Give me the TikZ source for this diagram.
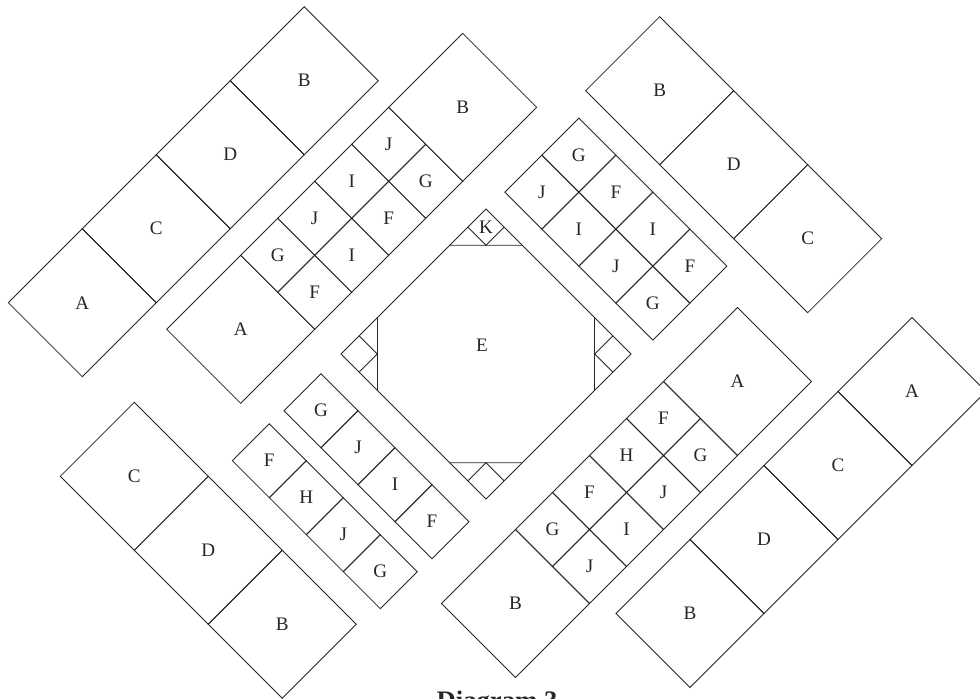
\documentclass[tikz,border=0pt]{standalone}
\usepackage{fontspec}
\setmainfont{Liberation Serif}
\tikzset{
  tile/.style={draw=black!85,line width=0.6pt},
  lbl/.style={font=\fontsize{13.6}{16}\selectfont,text=black!85,inner sep=0pt},
  capt/.style={font=\fontsize{19}{22}\selectfont\bfseries,text=black!85,inner sep=0pt},
}
\begin{document}
\begin{tikzpicture}[x={(0.125mm,0.125mm)},y={(0.125mm,-0.125mm)}]
  \useasboundingbox (0mm,0mm) rectangle (245mm,-174.5mm);
  \clip (0mm,0mm) rectangle (245mm,-174.5mm);
  % large tiles (u along the rows, v across)
  \foreach \u/\v/\f [count=\i] in {-294.4/311/A,-146.4/311/C,1.6/311/D,149.6/311/B,
      -162.6/496/A,281.4/496/B,
      495/676.4/B,495/824.4/D,495/972.4/C,
      -416/536.6/C,-416/684.6/D,-416/832.6/B,
      -162/1045/B,282/1045/A,
      2.5/1229.5/B,150.5/1229.5/D,298.5/1229.5/C,446.5/1229.5/A}{
    \draw[tile] (\u,\v) -- ++(148,0) -- ++(0,148) -- ++(-148,0) -- cycle;
    \node[lbl] (b\i) at ({\u+74},{\v+74}) {\f};}
  % small tiles
  \foreach \u/\v/\f [count=\i] in {-14.6/496/G,59.4/496/J,133.4/496/I,207.4/496/J,
      -14.6/570/F,59.4/570/I,133.4/570/F,207.4/570/G,
      312.7/697/J,312.7/771/I,312.7/845/J,312.7/919/G,
      386.7/697/G,386.7/771/F,386.7/845/I,386.7/919/F,
      -228.4/693/F,-228.4/767/H,-228.4/841/J,-228.4/915/G,
      -126.7/694.7/G,-126.7/768.7/J,-126.7/842.7/I,-126.7/916.7/F,
      -14/1045/G,60/1045/F,134/1045/H,208/1045/F,
      -14/1119/J,60/1119/I,134/1119/J,208/1119/G}{
    \draw[tile] (\u,\v) -- ++(74,0) -- ++(0,74) -- ++(-74,0) -- cycle;
    \node[lbl] (s\i) at ({\u+37},{\v+37}) {\f};}
  % middle block with cut corners
  \draw[tile] (-13,695) -- (277,695) -- (277,985) -- (-13,985) -- cycle;
  \foreach \a/\b/\da/\db in {277/695/-1/1,-13/695/1/1,277/985/-1/-1,-13/985/1/-1}{
    \draw[tile] ({\a+72.6*\da},\b) -- (\a,{\b+72.6*\db});
    \draw[tile] ({\a+36.3*\da},\b) -- ++(0,{36.3*\db}) -- ++({-36.3*\da},0);}
  \node[lbl] (k) at (258.85,713.15) {K};
  \node[lbl] (e) at (137,827) {E};
  \node[capt,anchor=north] (cap) at (124.25mm,-172.75mm) {Diagram 3};
\end{tikzpicture}
\end{document}
